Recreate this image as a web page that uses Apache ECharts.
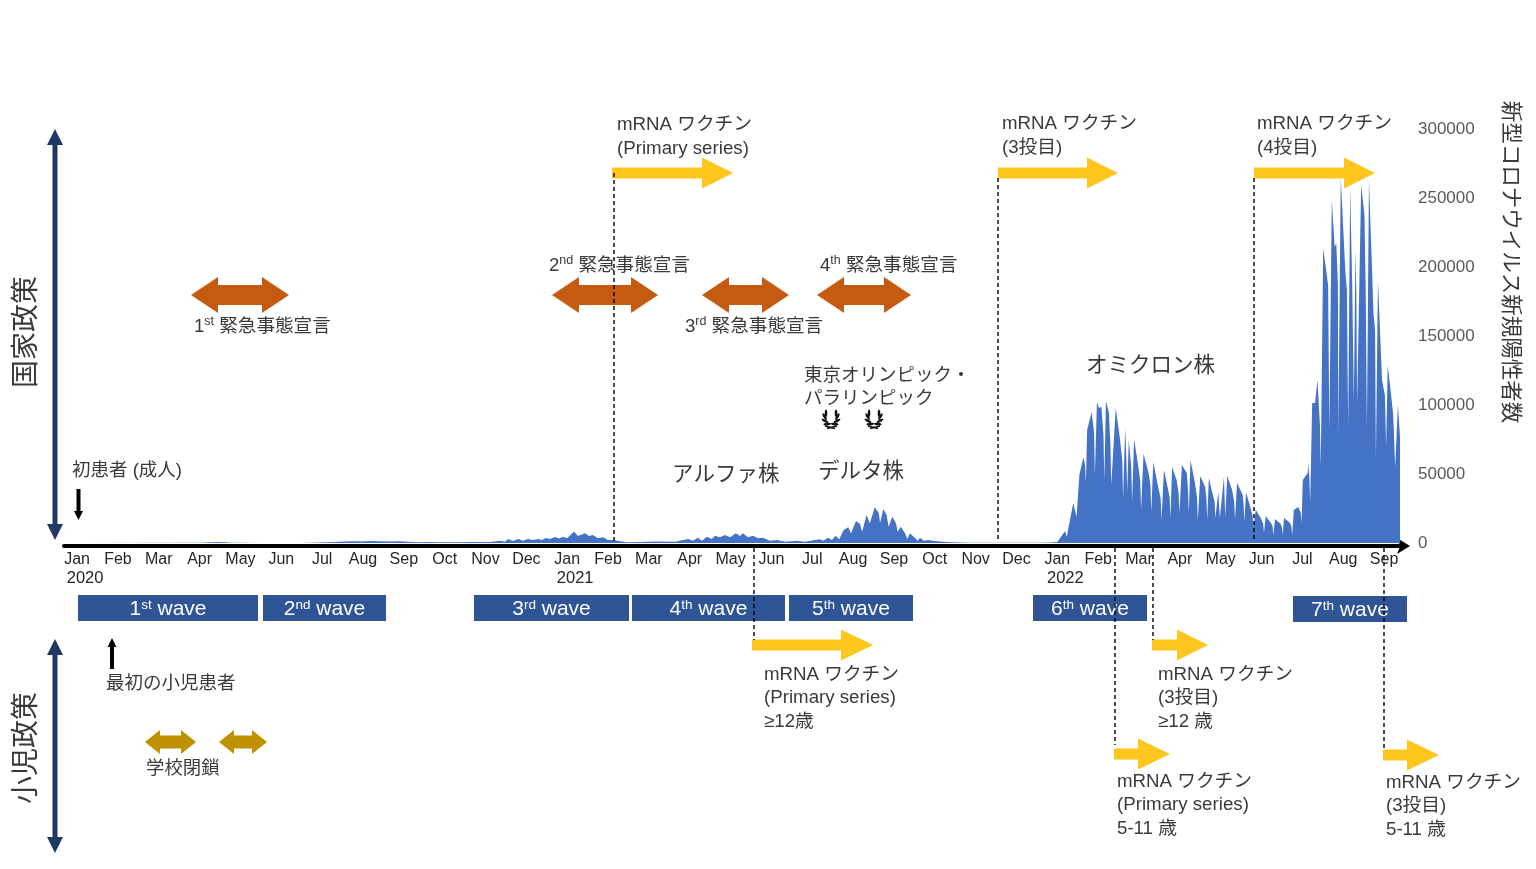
<!DOCTYPE html>
<html><head><meta charset="utf-8">
<style>html,body{margin:0;padding:0;background:#fff}#c{width:1536px;height:869px}</style>
<script src="https://cdn.jsdelivr.net/npm/echarts@6/dist/echarts.min.js"></script>
</head><body><div id="c"></div>
<script>
const monthNames = ['Jan','Feb','Mar','Apr','May','Jun','Jul','Aug','Sep','Oct','Nov','Dec'];
const yearLabels = {0:'2020',12:'2021',24:'2022'};
const monthTicks = [0,1,2,3,4,5,6,7,8,9,10,11,12,13,14,15,16,17,18,19,20,21,22,23,24,25,26,27,28,29,30,31,32];

// Months since Jan 2020 and newly confirmed cases
const earlyMonths = [0,3.01,3.13,3.30,3.45,3.62,3.79,3.99,4.48,5.46,5.95,6.32,6.56,6.81,6.98,7.17,7.42,7.66,7.91,8.15,8.40,8.64,8.89,9.13,9.38,9.62,9.87,10.11,
10.36,10.48,10.55,10.67,10.80,10.92,11.04,11.16,11.29,11.38,11.48,11.58,11.70,11.80,11.90,12.00,12.17,12.26,12.44,12.53,12.63,12.75,12.88,13.00,13.12,13.29,13.46,13.78,14.15,14.64,14.83,14.96,15.08,15.20,15.30,15.42,15.54,15.62,15.74,15.86,15.99,16.13,16.23,16.30,16.43,16.55,16.67,16.79,16.96,17.14,17.33,17.63,17.82,18.07,
18.19,18.27,18.39,18.48,18.57,18.66,18.77,18.88,18.95,19.07,19.17,19.22,19.33,19.41,19.53,19.63,19.66,19.74,19.82,19.87,19.96,20.05,20.09,20.17,20.27,20.33,20.39,20.51,20.58,20.64,20.73,20.84,21.00,21.21,21.41,21.86,22.60,23.57,23.82];
const earlyCounts = [0,100,400,500,700,500,250,100,30,50,300,700,1000,1200,1000,1500,1300,1100,1200,700,600,700,500,600,500,700,650,800,
1650,950,2900,1450,2900,1650,2900,2170,2900,2170,3620,2900,4350,3260,4570,3400,8330,5070,7000,5070,5800,3400,4130,2170,2170,1200,500,800,1000,950,2170,2900,1650,3800,1650,4570,2900,5300,4130,5800,4130,7000,5070,7000,4130,5300,3400,3800,1650,2170,950,1650,950,2170,
2680,1670,3800,2170,5300,2680,9420,11370,7000,15940,13770,8190,20290,14270,25860,21490,14490,24640,20290,11810,19060,14270,8190,11810,7000,2900,7000,3800,1670,3800,1670,2170,1450,950,500,200,100,200,300];
const omicronMonths = [24.00,24.19,24.23,24.39,24.47,24.54,24.64,24.68,24.70,24.73,24.84,24.90,24.92,24.97,25.02,25.08,25.13,25.15,25.19,25.26,25.30,25.32,25.43,25.53,25.59,25.61,25.66,25.69,25.71,25.75,25.81,25.83,25.88,25.97,26.03,26.05,26.11,26.23,26.28,26.30,26.35,26.46,26.53,26.55,26.61,26.67,26.75,26.77,26.81,26.92,26.97,26.99,27.05,27.17,27.20,27.22,27.26,27.37,27.42,27.44,27.50,27.62,27.65,27.67,27.71,27.79,27.85,27.87,27.94,27.98,28.08,28.11,28.16,28.28,28.33,28.35,28.40,28.54,28.56,28.58,28.62,28.73,28.78,28.80,28.86,28.98,29.04,29.06,29.10,29.23,29.27,29.29,29.33,29.47,29.50,29.52,29.55,29.70,29.73,29.75,29.79,29.90,29.96,29.98,30.01,30.13,30.14,30.17,30.19,30.24,30.31,30.37,30.43,30.45,
30.51,30.63,30.66,30.72,30.79,30.83,30.87,30.88,30.94,31.05,31.09,31.12,31.17,31.22,31.26,31.30,31.32,31.34,31.44,31.52,31.55,31.58,31.63,31.71,31.74,31.78,31.80,31.85,31.95,32.02,32.05,32.09,32.22,32.24,32.27,32.34,32.39];
const omicronCounts = [700,8700,4350,29000,18840,49270,62300,56000,43480,81880,94900,80000,49270,102170,97800,98550,78000,45650,102900,94900,72000,42030,97800,76080,60000,32600,83330,62000,36950,74630,55000,29700,75360,57970,45000,23900,64500,51450,42000,22460,58700,42030,32000,16670,52900,44930,33000,18100,55070,45650,36000,21740,56520,50720,38000,21740,60140,43480,33000,16670,48550,40580,32000,16670,47100,36950,30000,18100,36950,18100,47820,18840,48550,38400,30000,16670,43480,34780,28000,15220,36950,25360,20000,11590,23910,18100,14000,7250,19560,14490,12000,5800,17390,13770,11000,5800,18100,14490,12000,5800,23910,26090,22000,14490,45650,50720,57970,48000,28980,101440,101440,118100,85000,55070,
213760,186950,81880,248540,214480,217380,186950,79700,264480,197820,183200,84050,257960,186950,103620,212300,183200,101440,259400,237670,183200,84050,263030,194200,166660,154000,60140,190570,118110,107000,69560,128980,94200,81000,54350,100000,76800];
const caseMonths = earlyMonths.concat(omicronMonths);
const caseCounts = earlyCounts.concat(omicronCounts);

const SANS = '"Liberation Sans","Noto Sans CJK JP",sans-serif';
const TXT = '#3a3a3a';
const YEL = '#FFC61E', ORG = '#C55A11', GLD = '#BF9000', NAVY = '#203864', BOX = '#2F5597';
const els = [];
const rich = {s:{fontSize:12.5,fontFamily:SANS,fill:TXT,verticalAlign:'top',lineHeight:14,padding:[0,0,6,0]}};
const richW = {s:{fontSize:13.5,fontFamily:SANS,fill:'#fff',verticalAlign:'top',lineHeight:14,padding:[0,0,6,0]}};

function poly(points, fill){ els.push({type:'polygon',z:100,shape:{points},style:{fill}}); }
function rightArrow(x1,x2,y,headBase){ poly([[x1,y-5.5],[headBase,y-5.5],[headBase,y-15.5],[x2,y],[headBase,y+15.5],[headBase,y+5.5],[x1,y+5.5]],YEL); }
function dblH(x1,x2,y,sh,hl,hh,fill){ poly([[x1,y],[x1+hl,y-hh],[x1+hl,y-sh],[x2-hl,y-sh],[x2-hl,y-hh],[x2,y],[x2-hl,y+hh],[x2-hl,y+sh],[x1+hl,y+sh],[x1+hl,y+hh]],fill); }
function dblV(x,y1,y2){ poly([[x,y1],[x+8,y1+16],[x+2.5,y1+16],[x+2.5,y2-16],[x+8,y2-16],[x,y2],[x-8,y2-16],[x-2.5,y2-16],[x-2.5,y1+16],[x-8,y1+16]],NAVY); }
function dash(x,y1,y2){ els.push({type:'line',z:101,shape:{x1:x,y1,x2:x,y2},style:{stroke:'#000',lineWidth:1.4,lineDash:[4,3]}}); }
function txt(text,x,y,size,opt){ els.push({type:'text',z:102,style:Object.assign({text,x,y:y+2,fontSize:size,fontFamily:SANS,fill:TXT,align:'left',verticalAlign:'middle',lineHeight:23.5,rich},opt||{})}); }
function rotTxt(text,x,y,size,rotation){ els.push({type:'text',z:102,x,y,rotation,style:{text,x:0,y:0,fontSize:size,fontFamily:SANS,fill:TXT,align:'center',verticalAlign:'middle'}}); }
function box(x1,x2,y,label){
  els.push({type:'rect',z:99,shape:{x:x1,y,width:x2-x1,height:26},style:{fill:BOX}});
  els.push({type:'text',z:100,style:{text:label,x:(x1+x2)/2,y:y+14,fontSize:21,fontFamily:SANS,fill:'#fff',align:'center',verticalAlign:'middle',rich:richW}});
}
function laurel(cx,cy){
  [-1,1].forEach(side=>{
    [35,68,100,130].forEach(deg=>{
      const th = deg*Math.PI/180, tau = 40*Math.PI/180;
      const nx = side*Math.sin(th), ny = Math.cos(th), tx = side*Math.cos(th), ty = -Math.sin(th);
      const dx = tx*Math.cos(tau)+nx*Math.sin(tau), dy = ty*Math.cos(tau)+ny*Math.sin(tau);
      els.push({type:'ellipse',z:100,x:cx+nx*6.5,y:cy+ny*7.5,rotation:Math.atan2(dx,dy),
        shape:{cx:0,cy:0,rx:1.3,ry:3.8},style:{fill:'#111'}});
    });
    els.push({type:'line',z:100,shape:{x1:cx+side*6,y1:cy+8,x2:cx-side*4,y2:cy+10.5},style:{stroke:'#111',lineWidth:1.4}});
  });
}

// wave boxes
box(78,258,595,'1{s|st} wave'); box(263,386,595,'2{s|nd} wave'); box(474,629,595,'3{s|rd} wave');
box(632,785,595,'4{s|th} wave'); box(789,913,595,'5{s|th} wave'); box(1033,1147,595,'6{s|th} wave'); box(1293,1407,596,'7{s|th} wave');
// dashed guides
dash(614,173,541); dash(998,178,541); dash(1254,178,541);
dash(754,548,640); dash(1153,548,640); dash(1115,548,745); dash(1384,548,750);
// vaccine arrows
rightArrow(612,733,173,702); rightArrow(998,1118,173,1087); rightArrow(1254,1375,173,1344);
rightArrow(752,873,645,841); rightArrow(1152,1208,645,1177); rightArrow(1114,1170,754,1138); rightArrow(1383,1439,755,1407);
// emergency declarations and school closure
dblH(191,289,295,10,27,18,ORG); dblH(552,658,295,10,27,18,ORG); dblH(702,789,295,10,27,18,ORG); dblH(817,911,295,10,27,18,ORG);
dblH(145,196,742,6.5,15,12,GLD); dblH(219,267,742,6.5,15,12,GLD);
// policy axes
dblV(55,129,540); dblV(55,639,853);
// case markers
poly([[76.5,489],[80.5,489],[80.5,511],[83,511],[78.5,520],[74,511],[76.5,511]],'#000');
poly([[110,669],[114,669],[114,647],[116.5,647],[112,638],[107.5,647],[110,647]],'#000');
laurel(831,418); laurel(874,418);
// texts
const VAC='mRNA ワクチン';
txt(VAC+'\n(Primary series)',617,135,18.7);
txt(VAC+'\n(3投目)',1002,134,18.7);
txt(VAC+'\n(4投目)',1257,134,18.7);
txt('2{s|nd} 緊急事態宣言',549,264,18.6); txt('1{s|st} 緊急事態宣言',194,325,18.6);
txt('3{s|rd} 緊急事態宣言',685,325,18.6); txt('4{s|th} 緊急事態宣言',820,264,18.6);
txt('東京オリンピック・\nパラリンピック',804,385.5,18.5);
txt('オミクロン株',1086,364,21.5); txt('アルファ株',672,473,21.5); txt('デルタ株',818,470,21.5);
txt('初患者 (成人)',72,469,18.5); txt('最初の小児患者',106,682,18.5); txt('学校閉鎖',146,767,18.4);
txt(VAC+'\n(Primary series)\n≥12歳',764,696,18.7);
txt(VAC+'\n(3投目)\n≥12 歳',1158,696,18.7);
txt(VAC+'\n(Primary series)\n5-11 歳',1117,803,18.7);
txt(VAC+'\n(3投目)\n5-11 歳',1386,804,18.7);
rotTxt('国家政策',27,332,28,Math.PI/2);
rotTxt('小児政策',27,748,28,Math.PI/2);
rotTxt('新型コロナウイルス新規陽性者数',1510,262,21.5,-Math.PI/2);

const chart = echarts.init(document.getElementById('c'),null,{renderer:'canvas'});
chart.setOption({
  animation:false,
  backgroundColor:'#fff',
  grid:{left:64,width:1336,top:129,height:414},
  xAxis:{type:'value',min:-0.32,max:32.39,offset:3,
    axisLine:{show:true,onZero:false,lineStyle:{color:'#000',width:4},symbol:['none','arrow'],symbolSize:[12,13],symbolOffset:[0,10]},
    axisTick:{show:false},splitLine:{show:false},
    axisLabel:{customValues:monthTicks,margin:4,interval:0,hideOverlap:false,showMinLabel:true,showMaxLabel:true,
      color:'#262626',fontFamily:SANS,fontSize:16,lineHeight:19,
      formatter:v=>{const n=monthNames[v%12];return yearLabels[v]?'{m|'+n+'}\n{y|'+yearLabels[v]+'}':n;},
      rich:{m:{fontSize:16,fontFamily:SANS,color:'#262626',lineHeight:19},y:{fontSize:16.5,fontFamily:SANS,color:'#262626',lineHeight:19,padding:[0,0,0,16]}}}},
  yAxis:{type:'value',position:'right',min:0,max:300000,interval:50000,
    axisLine:{show:false},axisTick:{show:false},splitLine:{show:false},
    axisLabel:{margin:18,color:'#595959',fontFamily:SANS,fontSize:17,padding:[2,0,0,0],formatter:v=>String(v)}},
  series:[{type:'line',data:caseMonths.map((m,i)=>[m,caseCounts[i]]),showSymbol:false,smooth:false,
    lineStyle:{width:0},areaStyle:{color:'#4472C4',opacity:1},itemStyle:{color:'#4472C4'},silent:true,clip:false}],
  graphic:{elements:els}
});
</script></body></html>
